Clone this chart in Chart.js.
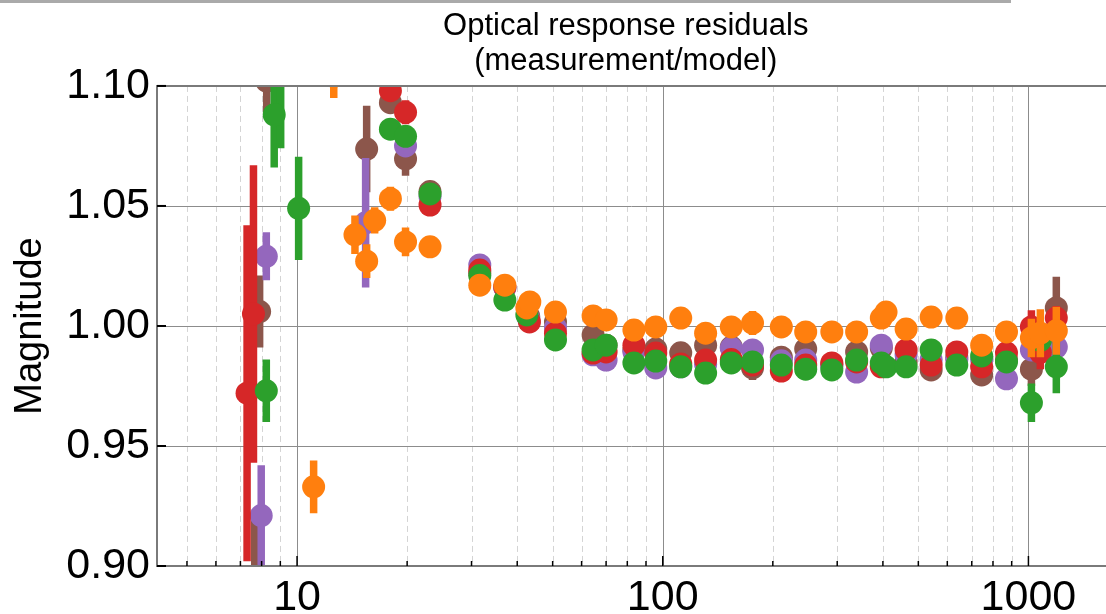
<!DOCTYPE html>
<html>
<head>
<meta charset="utf-8">
<script src="https://cdn.jsdelivr.net/npm/chart.js@4.4.0/dist/chart.umd.min.js"></script>
<style>
  html, body { margin: 0; padding: 0; background: #fff; }
  #wrap { position: relative; width: 1106px; height: 614px; overflow: hidden; }
  #prev { position: absolute; left: -4px; top: -10px; width: 1012px; height: 10px;
          border-bottom: 3px solid #aaa; border-right: 3px solid #aaa; }
  canvas { position: absolute; left: 0; top: 0; }
</style>
</head>
<body>
<div id="wrap">
  <canvas id="resid" width="1106" height="614"></canvas>
  <div id="prev"></div>
</div>
<script>
// values (frequency in Hz, magnitude ratio, 1-sigma error)
var orangeFreq = [11.1, 12.6, 14.4, 15.5, 16.3, 18.0, 19.8, 23.1, 31.6, 37.0, 42.5, 43.3, 50.9, 64.5, 70.0, 83.4, 95.7, 112, 131, 154, 176, 211, 246, 290, 339, 396, 408, 463, 542, 637, 745, 871, 1019, 1078, 1192];
var orangeMag  = [0.933, 1.104, 1.038, 1.027, 1.044, 1.053, 1.035, 1.033, 1.017, 1.017, 1.0075, 1.010, 1.0058, 1.0042, 1.0025, 0.9983, 0.9996, 1.0033, 0.997, 0.9996, 1.0012, 0.9996, 0.9975, 0.9975, 0.9975, 1.0033, 1.0058, 0.9987, 1.0037, 1.0033, 0.992, 0.9975, 0.995, 0.997, 0.998];
var orangeErr  = [0.011, 0.009, 0.008, 0.007, 0.0055, 0.005, 0.006, 0.001, 0.001, 0.001, 0.001, 0.001, 0.001, 0.001, 0.001, 0.001, 0.001, 0.001, 0.001, 0.001, 0.005, 0.001, 0.001, 0.001, 0.001, 0.001, 0.004, 0.001, 0.001, 0.001, 0.004, 0.001, 0.008, 0.010, 0.010];

var redFreq = [7.3, 7.6, 18.0, 19.8, 23.1, 31.6, 37.0, 43.2, 50.9, 64.5, 70.0, 83.4, 95.7, 112, 131, 154, 176, 211, 246, 290, 339, 396, 463, 542, 637, 745, 871, 1019, 1078, 1192];
var redMag  = [0.972, 1.005, 1.098, 1.089, 1.0504, 1.0233, 1.0163, 1.0017, 0.997, 0.9887, 0.9892, 0.992, 0.9887, 0.9842, 0.9858, 0.986, 0.9837, 0.9812, 0.9837, 0.9846, 0.985, 0.983, 0.990, 0.9837, 0.9892, 0.983, 0.9888, 0.9996, 0.989, 1.0033];
var redErr  = [0.070, 0.062, 0.002, 0.005, 0.002, 0.001, 0.001, 0.001, 0.001, 0.001, 0.001, 0.001, 0.001, 0.001, 0.001, 0.001, 0.001, 0.001, 0.001, 0.001, 0.001, 0.001, 0.001, 0.001, 0.001, 0.001, 0.001, 0.007, 0.007, 0.005];

var brownFreq = [7.66, 7.9, 8.26, 15.5, 18.0, 19.8, 23.1, 31.6, 37.0, 43.0, 50.9, 64.5, 70.0, 83.4, 95.7, 112, 131, 154, 176, 211, 246, 290, 339, 396, 463, 542, 637, 745, 871, 1019, 1192];
var brownMag  = [0.893, 1.006, 1.102, 1.0737, 1.093, 1.0696, 1.056, 1.022, 1.016, 1.004, 1.0017, 0.9962, 0.992, 0.990, 0.9904, 0.9888, 0.992, 0.9912, 0.9825, 0.987, 0.9904, 0.984, 0.9892, 0.9908, 0.985, 0.9817, 0.987, 0.9796, 0.986, 0.982, 1.0075];
var brownErr  = [0.026, 0.015, 0.014, 0.018, 0.002, 0.007, 0.002, 0.001, 0.001, 0.001, 0.001, 0.001, 0.001, 0.001, 0.001, 0.001, 0.001, 0.001, 0.005, 0.001, 0.001, 0.001, 0.001, 0.001, 0.001, 0.001, 0.001, 0.001, 0.001, 0.007, 0.013];

var purpleFreq = [7.98, 8.24, 15.4, 19.8, 23.1, 31.6, 37.0, 43.0, 50.9, 64.5, 70.0, 83.4, 95.7, 112, 131, 154, 176, 211, 246, 290, 339, 396, 463, 542, 637, 745, 871, 1019, 1192];
var purpleMag  = [0.921, 1.029, 1.043, 1.075, 1.054, 1.0254, 1.016, 1.003, 0.9992, 0.988, 0.9858, 0.9892, 0.9825, 0.983, 0.984, 0.9908, 0.990, 0.9855, 0.9858, 0.983, 0.9808, 0.992, 0.988, 0.986, 0.986, 0.986, 0.978, 0.990, 0.9912];
var purpleErr  = [0.021, 0.010, 0.027, 0.002, 0.001, 0.001, 0.001, 0.001, 0.001, 0.001, 0.001, 0.001, 0.001, 0.001, 0.001, 0.001, 0.001, 0.001, 0.001, 0.001, 0.001, 0.001, 0.001, 0.001, 0.001, 0.001, 0.001, 0.001, 0.001];

var greenFreq = [8.24, 8.66, 9.02, 10.1, 18.0, 19.8, 23.1, 31.6, 37.0, 42.5, 50.9, 64.5, 70.0, 83.4, 95.7, 112, 131, 154, 176, 211, 246, 290, 339, 396, 408, 463, 542, 637, 745, 871, 1019, 1078, 1192];
var greenMag  = [0.973, 1.088, 1.105, 1.049, 1.082, 1.079, 1.055, 1.021, 1.0108, 1.0046, 0.9942, 0.990, 0.992, 0.9846, 0.9854, 0.983, 0.9804, 0.9846, 0.985, 0.9837, 0.982, 0.9817, 0.9858, 0.9846, 0.983, 0.983, 0.990, 0.9837, 0.9875, 0.985, 0.968, 0.994, 0.983];
var greenErr  = [0.013, 0.022, 0.031, 0.0215, 0.002, 0.002, 0.002, 0.001, 0.001, 0.001, 0.001, 0.001, 0.001, 0.001, 0.001, 0.001, 0.001, 0.001, 0.001, 0.001, 0.001, 0.001, 0.001, 0.001, 0.001, 0.001, 0.001, 0.001, 0.001, 0.001, 0.008, 0.004, 0.011];

var xTickValues = [10, 100, 1000];
var xMinorValues = [5, 6, 7, 8, 9, 20, 30, 40, 50, 60, 70, 80, 90, 200, 300, 400, 500, 600, 700, 800, 900];
var yTickValues = [0.90, 0.95, 1.00, 1.05, 1.10];

var FONT = "'Liberation Sans', Arial, Helvetica, sans-serif";

function points(freq, mag) {
    return freq.map(function (f, i) { return { x: f, y: mag[i] }; });
}

function series(freq, mag, err, color) {
    return {
        data: points(freq, mag),
        errors: err,
        backgroundColor: color,
        borderColor: color,
        pointRadius: 11.5,
        pointHoverRadius: 11.5,
        pointBorderWidth: 0,
        showLine: false
    };
}

// error bars, drawn just under each dataset's own markers
var errorBars = {
    id: "errorBars",
    beforeDatasetDraw: function (chart, args) {
        var ds = chart.data.datasets[args.index];
        var y = chart.scales.y;
        var a = chart.chartArea;
        var ctx = chart.ctx;
        ctx.save();
        ctx.beginPath();
        ctx.rect(a.left, a.top, a.right - a.left, a.bottom - a.top);
        ctx.clip();
        ctx.strokeStyle = ds.backgroundColor;
        ctx.lineWidth = 7.5;
        args.meta.data.forEach(function (pt, i) {
            var v = ds.data[i].y, e = ds.errors[i];
            ctx.beginPath();
            ctx.moveTo(pt.x, y.getPixelForValue(v - e));
            ctx.lineTo(pt.x, y.getPixelForValue(v + e));
            ctx.stroke();
        });
        ctx.restore();
    }
};

// grid (major solid, minor dashed) under the data, frame and ticks on top
// the plot runs off the right edge of the picture, so horizontal lines go to the canvas edge
var gridLines = {
    id: "gridLines",
    beforeDatasetsDraw: function (chart) {
        var x = chart.scales.x, y = chart.scales.y, a = chart.chartArea, ctx = chart.ctx;
        ctx.save();
        ctx.lineWidth = 1;
        ctx.strokeStyle = "#d4d4d4";
        ctx.setLineDash([6, 4]);
        xMinorValues.forEach(function (v) {
            var px = Math.round(x.getPixelForValue(v)) + 0.5;
            ctx.beginPath(); ctx.moveTo(px, a.top); ctx.lineTo(px, a.bottom); ctx.stroke();
        });
        ctx.setLineDash([]);
        ctx.strokeStyle = "#8c8c8c";
        xTickValues.forEach(function (v) {
            var px = Math.round(x.getPixelForValue(v)) + 0.5;
            ctx.beginPath(); ctx.moveTo(px, a.top); ctx.lineTo(px, a.bottom); ctx.stroke();
        });
        yTickValues.forEach(function (v) {
            var py = Math.round(y.getPixelForValue(v)) + 0.5;
            ctx.beginPath(); ctx.moveTo(a.left, py); ctx.lineTo(chart.width, py); ctx.stroke();
        });
        ctx.restore();
    },
    afterDatasetsDraw: function (chart) {
        var x = chart.scales.x, y = chart.scales.y, a = chart.chartArea, ctx = chart.ctx;
        ctx.save();
        ctx.lineWidth = 2;
        ctx.strokeStyle = "#7a7a7a";
        ctx.beginPath();
        ctx.moveTo(chart.width, a.top); ctx.lineTo(a.left, a.top);
        ctx.lineTo(a.left, a.bottom); ctx.lineTo(chart.width, a.bottom);
        ctx.stroke();
        ctx.strokeStyle = "#000";
        ctx.lineWidth = 2;
        yTickValues.forEach(function (v) {
            var py = y.getPixelForValue(v);
            ctx.beginPath(); ctx.moveTo(a.left, py); ctx.lineTo(a.left + 9, py); ctx.stroke();
        });
        ctx.lineWidth = 1.5;
        xMinorValues.forEach(function (v) {
            var px = x.getPixelForValue(v);
            ctx.beginPath(); ctx.moveTo(px, a.bottom); ctx.lineTo(px, a.bottom - 5); ctx.stroke();
        });
        xTickValues.forEach(function (v) {
            var px = x.getPixelForValue(v);
            ctx.beginPath(); ctx.moveTo(px, a.bottom); ctx.lineTo(px, a.bottom - 10); ctx.stroke();
        });
        ctx.restore();
    }
};

var ctx = document.getElementById("resid").getContext("2d");

new Chart(ctx, {
    type: "scatter",
    data: {
        datasets: [
            series(orangeFreq, orangeMag, orangeErr, "#ff7f0e"),
            series(greenFreq, greenMag, greenErr, "#2ca02c"),
            series(redFreq, redMag, redErr, "#d62728"),
            series(purpleFreq, purpleMag, purpleErr, "#9467bd"),
            series(brownFreq, brownMag, brownErr, "#8c564b")
        ]
    },
    options: {
        responsive: false,
        animation: false,
        layout: { padding: 0 },
        scales: {
            x: {
                type: "logarithmic",
                min: 4.14,
                max: 1516,
                grid: { display: false, drawTicks: false },
                border: { display: false },
                afterBuildTicks: function (s) {
                    s.ticks = xTickValues.map(function (v) { return { value: v }; });
                },
                ticks: {
                    autoSkip: false,
                    maxRotation: 0,
                    padding: 6,
                    color: "#000",
                    font: { family: FONT, size: 43 },
                    callback: function (v) { return String(v); }
                },
                afterFit: function (s) {
                    s.height = 48;
                    s.paddingLeft = 0;
                    s.paddingRight = 0;
                }
            },
            y: {
                min: 0.9,
                max: 1.1,
                grid: { display: false, drawTicks: false },
                border: { display: false },
                afterBuildTicks: function (s) {
                    s.ticks = yTickValues.map(function (v) { return { value: v }; });
                },
                ticks: {
                    padding: 7,
                    color: "#000",
                    font: { family: FONT, size: 43 },
                    callback: function (v) { return v.toFixed(2); }
                },
                title: {
                    display: true,
                    text: "Magnitude",
                    color: "#000",
                    font: { family: FONT, size: 38 },
                    padding: { top: 8, bottom: 0 }
                },
                afterFit: function (s) { s.width = 157; }
            }
        },
        plugins: {
            legend: { display: false },
            tooltip: { enabled: false },
            title: {
                display: true,
                fullSize: false,
                text: ["Optical response residuals", "(measurement/model)"],
                color: "#000",
                font: { family: FONT, size: 31, weight: "normal", lineHeight: 1.12 },
                padding: { top: 9, bottom: 7.5 }
            }
        }
    },
    plugins: [gridLines, errorBars]
});
</script>
</body>
</html>
